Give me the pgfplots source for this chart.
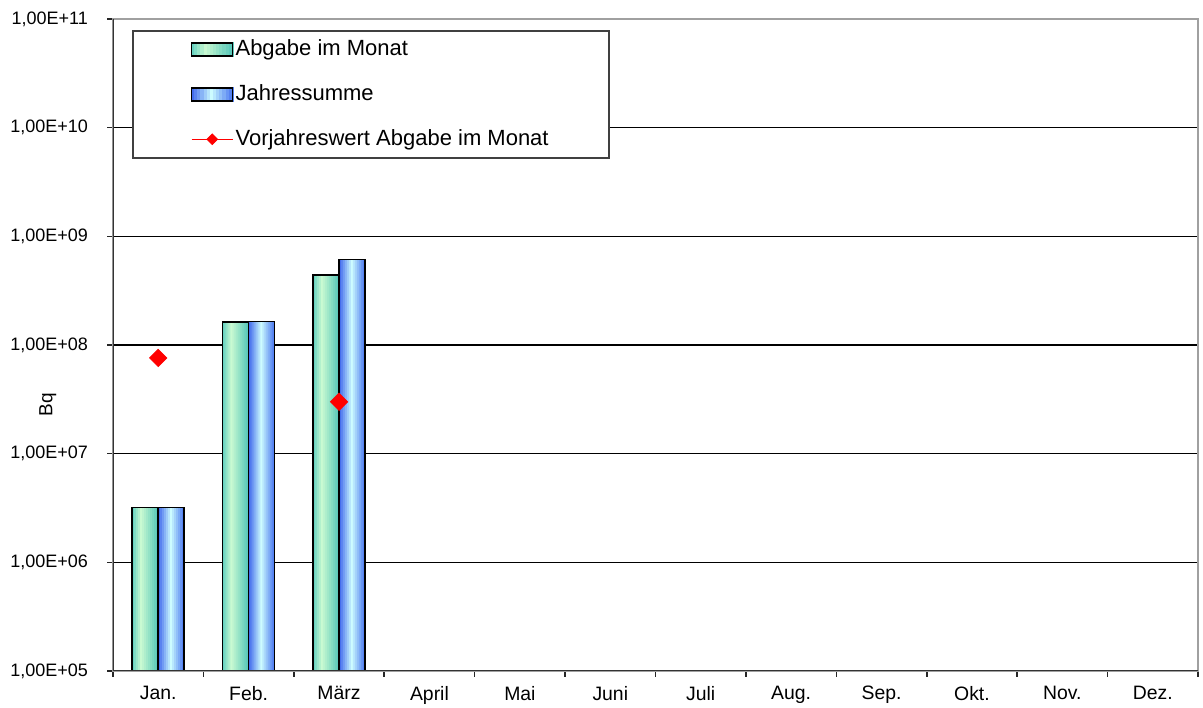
\documentclass[border=0pt]{standalone}
\usepackage{pgfplots}
\usepackage{pgfplotstable}
\pgfplotsset{compat=1.18}
\usepackage{fontspec}
\setmainfont{Liberation Sans}

% bar colours (gradient: edge / centre)
\definecolor{grnEdgeL}{RGB}{90,205,190}
\definecolor{grnMid}{RGB}{202,250,210}
\definecolor{grnEdgeR}{RGB}{85,198,185}
\definecolor{bluEdgeL}{RGB}{55,95,235}
\definecolor{bluMid}{RGB}{205,252,255}
\definecolor{bluEdgeR}{RGB}{75,120,240}
\definecolor{frame}{RGB}{160,160,160}

% strip colours for the horizontal gradient of the bars
\foreach \i in {0,...,12}{%
  \pgfmathsetmacro\tt{(\i+0.5)/13}%
  \ifdim\tt pt<0.35pt
    \pgfmathsetmacro\pp{100*\tt/0.35}\xglobal\colorlet{g\i}{grnMid!\pp!grnEdgeL}%
  \else
    \pgfmathsetmacro\pp{100*(1-\tt)/0.65}\xglobal\colorlet{g\i}{grnMid!\pp!grnEdgeR}%
  \fi
  \ifdim\tt pt<0.5pt
    \pgfmathsetmacro\pp{100*\tt/0.5}\xglobal\colorlet{b\i}{bluMid!\pp!bluEdgeL}%
  \else
    \pgfmathsetmacro\pp{100*(1-\tt)/0.5}\xglobal\colorlet{b\i}{bluMid!\pp!bluEdgeR}%
  \fi
}

% legend swatch with the same gradient strips (#1 = g or b)
\newcommand\gradswatch[1]{%
  \foreach \i in {0,...,12}{\fill[#1\i] ({\i*1.577pt-0.05pt},-3.25pt) rectangle ({(\i+1)*1.577pt+0.05pt},3.25pt);}%
  \draw[black, line width=0.75pt] (0pt,-3.25pt) rectangle (20.5pt,3.25pt);}

% month, Abgabe im Monat, Jahressumme
\pgfplotstableread{
x  a       b
0  3.2e6   3.2e6
1  1.62e8  1.65e8
2  4.4e8   6.1e8
}\bars

\begin{document}
\begin{tikzpicture}
\begin{axis}[
    name=ax,
    scale only axis,
    width=542.5pt, height=326pt,
    ymode=log,
    ymin=1e5, ymax=1e11,
    xmin=-0.5, xmax=11.5,
    ytick={1e5,1e6,1e7,1e8,1e9,1e10,1e11},
    yticklabels={{1,00E+05},{1,00E+06},{1,00E+07},{1,00E+08},{1,00E+09},{1,00E+10},{1,00E+11}},
    xtick={0,...,11},
    xticklabels={Jan.,Feb.,März,April,Mai,Juni,Juli,Aug.,Sep.,Okt.,Nov.,Dez.},
    minor xtick={-0.5,0.5,...,11.5},
    major x tick style={draw=none},
    tick align=outside,
    major tick length=3pt, minor tick length=3pt,
    xtick pos=bottom, ytick pos=left,
    tick style={black!85, line width=0.8pt},
    yminorticks=false,
    ymajorgrids,
    major grid style={black, line width=0.7pt},
    axis line style={frame, line width=1pt},
    ticklabel style={font=\fontsize{9}{10}\selectfont},
    yticklabel style={xshift=-6pt},
    xticklabel style={font=\fontsize{9.7}{11}\selectfont, yshift=-1pt},
    ylabel={Bq},
    ylabel style={at={(axis description cs:-0.06,0.408)}, anchor=center, font=\fontsize{9.5}{10}\selectfont},
    unbounded coords=jump,
    legend cell align=left,
    legend style={
        at={(0.0175,0.983)}, anchor=north west,
        draw=black!75, line width=0.9pt,
        inner xsep=29pt, inner ysep=4pt,
        row sep=12pt,
        font=\fontsize{11}{12.5}\selectfont,
        nodes={inner xsep=1pt, inner ysep=0.5pt},
    },
]
% gradient strips of the bars
\pgfplotsinvokeforeach{0,...,12}{
  \addplot[ybar, forget plot, draw=none, fill=g#1, bar width=1.15pt,
      bar shift={-13pt+(#1+0.5)*1pt}] table[x=x, y=a] {\bars};
  \addplot[ybar, forget plot, draw=none, fill=b#1, bar width=1.15pt,
      bar shift={(#1+0.5)*1pt}] table[x=x, y=b] {\bars};
}
% outlines and legend entries
\addplot[ybar, bar width=13pt, bar shift=-6.5pt, draw=black, fill=none, line width=0.75pt,
    legend image code/.code={\gradswatch{g}}]
    table[x=x, y=a] {\bars};
\addlegendentry{Abgabe im Monat}
\addplot[ybar, bar width=13pt, bar shift=6.5pt, draw=black, fill=none, line width=0.75pt,
    legend image code/.code={\gradswatch{b}}]
    table[x=x, y=b] {\bars};
\addlegendentry{Jahressumme}
\addplot[red, line width=0.5pt, mark=square*, mark size=3pt,
    mark options={rotate=45, fill=red, draw=red},
    legend image code/.code={\draw[red, line width=0.5pt] (0pt,0pt) -- (20.5pt,0pt);
        \fill[red] (10.25pt,2.6pt) -- (12.85pt,0pt) -- (10.25pt,-2.6pt) -- (7.65pt,0pt) -- cycle;}]
    coordinates {(0,7.6e7) (1,nan) (2,3.0e7)};
\addlegendentry{Vorjahreswert Abgabe im Monat}
% darker left and bottom axis lines
\draw[black!80, line width=1pt] (rel axis cs:0,1) -- (rel axis cs:0,0) -- (rel axis cs:1,0);
\end{axis}
\pgfresetboundingbox
\path (ax.south west) ++(-56.5pt,-18pt) -- (ax.north east) -- ++(2.5pt,9.5pt);
\end{tikzpicture}
\end{document}
